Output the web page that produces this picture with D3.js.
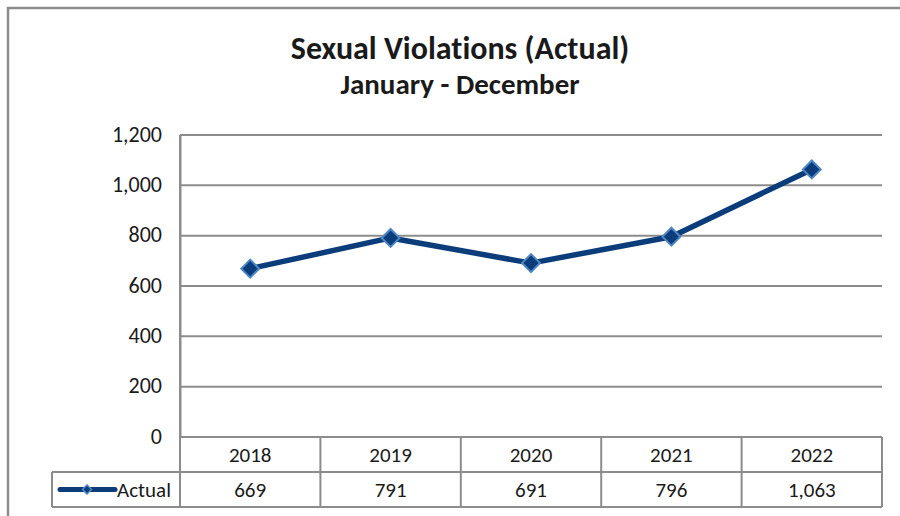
<!DOCTYPE html>
<html><head><meta charset="utf-8">
<script src="https://cdn.jsdelivr.net/npm/d3@7"></script>
<style>body{margin:0;background:#fff}svg{display:block}text{font-family:Carlito,Lato,"Open Sans",sans-serif;fill:#1a1a1a;font-variant-ligatures:none}</style>
</head><body><div id="chart"></div>
<script>
const years = ["2018","2019","2020","2021","2022"];
const actual = [669, 791, 691, 796, 1063];
const yTicks = [0, 200, 400, 600, 800, 1000, 1200];
const seriesName = "Actual";
const title = "Sexual Violations (Actual)";
const subtitle = "January - December";

(function(){
const W = 900, H = 516;
const svg = d3.select("#chart").append("svg").attr("width", W).attr("height", H);
const grid = "#8c8c8c";
const navy = "#0b3d7a";
const fs = "21px";

// outer border
svg.append("path").attr("d", `M8,${H} L8,8 L${W},8`).attr("fill","none").attr("stroke",grid).attr("stroke-width",2.5);

const pL = 180, pR = 882, pT = 135, pB = 437;
const x = d3.scaleBand().domain(years).range([pL, pR]);
const y = d3.scaleLinear().domain([0, 1200]).range([pB, pT]);

svg.append("text").attr("x", 460).attr("y", 59).attr("text-anchor","middle")
  .style("font-size","32px").style("font-weight","bold").text(title);
svg.append("text").attr("x", 460).attr("y", 94).attr("text-anchor","middle")
  .style("font-size","29px").style("font-weight","bold").text(subtitle);

// gridlines
svg.append("g").selectAll("line").data(yTicks).join("line")
  .attr("x1", pL).attr("x2", pR).attr("y1", d=>y(d)).attr("y2", d=>y(d))
  .attr("stroke", grid).attr("stroke-width", 2);

// y axis
const yAxis = d3.axisLeft(y).tickValues(yTicks).tickSize(0).tickPadding(18).tickFormat(d3.format(","));
const ga = svg.append("g").attr("transform", `translate(${pL},0)`).call(yAxis);
ga.select(".domain").attr("stroke", grid).attr("stroke-width", 2);
ga.selectAll("text").style("font-size","22px").style("font-family","Carlito,Lato,'Open Sans',sans-serif").attr("fill","#1a1a1a").attr("dy","0.28em");

// table
const rowH = 35;
const r1 = pB, r2 = pB + rowH, r3 = pB + 2*rowH;
const tg = svg.append("g").attr("stroke", grid).attr("stroke-width", 2).attr("fill","none");
tg.append("line").attr("x1", pL).attr("x2", pR).attr("y1", r1).attr("y2", r1);
tg.append("line").attr("x1", 52).attr("x2", pR).attr("y1", r2).attr("y2", r2);
tg.append("line").attr("x1", 52).attr("x2", pR).attr("y1", r3).attr("y2", r3);
tg.append("line").attr("x1", 52).attr("x2", 52).attr("y1", r2).attr("y2", r3);
const edges = years.map(d => x(d)).concat([pR]);
tg.selectAll(".v").data(edges).join("line").attr("class","v")
  .attr("x1", d=>d).attr("x2", d=>d).attr("y2", r3)
  .attr("y1", (d,i) => i === 0 ? pT : r1);

svg.append("g").selectAll("text").data(years).join("text")
  .attr("x", d => x(d) + x.bandwidth()/2).attr("y", r1 + 25).attr("text-anchor","middle")
  .style("font-size",fs).text(d => d);
svg.append("g").selectAll("text").data(actual).join("text")
  .attr("x", (d,i) => x(years[i]) + x.bandwidth()/2).attr("y", r2 + 25).attr("text-anchor","middle")
  .style("font-size",fs).text(d => d3.format(",")(d));

// legend key
const lg = svg.append("g");
lg.append("line").attr("x1", 60).attr("x2", 115).attr("y1", r2 + 17.5).attr("y2", r2 + 17.5)
  .attr("stroke", navy).attr("stroke-width", 5).attr("stroke-linecap","round");
lg.append("path").attr("d", d3.symbol(d3.symbolSquare, 40)())
  .attr("transform", `translate(87,${r2+17.5}) rotate(45)`).attr("fill", navy).attr("stroke","#4f86c6").attr("stroke-width",1.5);
lg.append("text").attr("x", 117).attr("y", r2 + 25).style("font-size",fs).text(seriesName);

// line
const pts = actual.map((v,i) => [x(years[i]) + x.bandwidth()/2, y(v)]);
svg.append("path").attr("d", d3.line()(pts)).attr("fill","none").attr("stroke", navy)
  .attr("stroke-width", 5.5).attr("stroke-linejoin","round");
svg.append("g").selectAll("path").data(pts).join("path")
  .attr("d", d3.symbol(d3.symbolSquare, 160)())
  .attr("transform", d => `translate(${d[0]},${d[1]}) rotate(45)`)
  .attr("fill", navy).attr("stroke","#4f86c6").attr("stroke-width",2);
})();
</script></body></html>
